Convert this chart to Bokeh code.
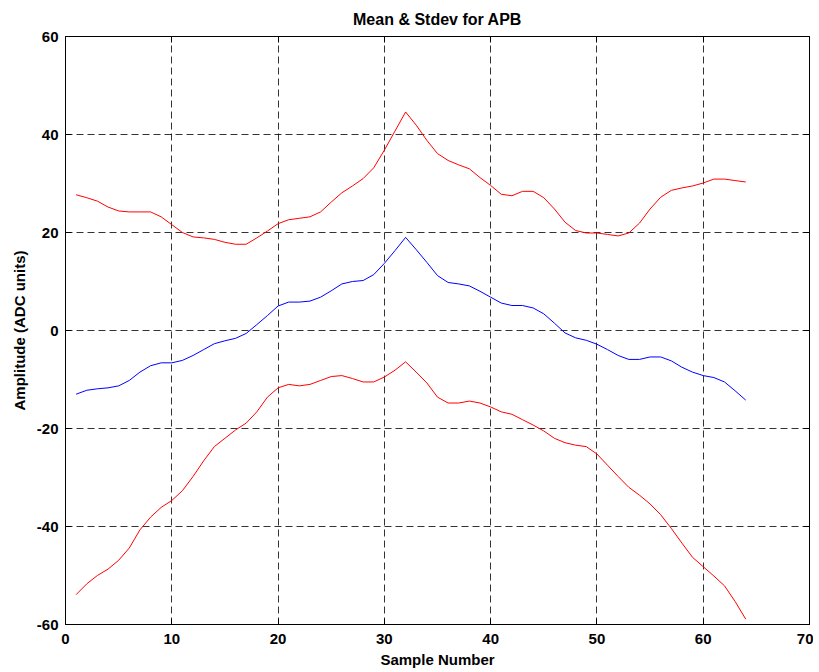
from bokeh.plotting import figure
from bokeh.models import LinearAxis, SingleIntervalTicker, CustomJSTickFormatter
from bokeh.embed import file_html
from bokeh.resources import INLINE

samples = list(range(1, 65))
upper = [27.7, 27.1, 26.4, 25.2, 24.4, 24.2, 24.2, 24.2, 23.2, 21.6,
         20.0, 19.1, 18.9, 18.6, 18.0, 17.6, 17.6, 18.9, 20.3, 21.8,
         22.6, 22.9, 23.2, 24.2, 26.2, 28.1, 29.5, 31.0, 33.2, 36.8,
         40.7, 44.6, 41.9, 38.8, 36.1, 34.7, 33.8, 33.0, 31.2, 29.6,
         27.8, 27.5, 28.4, 28.4, 27.1, 24.8, 22.1, 20.4, 19.9, 19.9,
         19.6, 19.3, 19.9, 21.9, 24.8, 27.2, 28.6, 29.1, 29.5, 30.1,
         30.9, 30.9, 30.6, 30.3]
mean = [-13.0, -12.2, -11.9, -11.7, -11.3, -10.2, -8.5, -7.2, -6.6, -6.6,
        -6.1, -5.1, -3.9, -2.7, -2.1, -1.6, -0.6, 1.2, 3.05, 5.0,
        5.8, 5.8, 6.0, 6.8, 8.1, 9.5, 10.0, 10.2, 11.4, 13.7,
        16.3, 19.0, 16.5, 13.9, 11.2, 9.8, 9.5, 9.1, 8.0, 6.8,
        5.6, 5.1, 5.1, 4.6, 3.4, 1.5, -0.5, -1.5, -2.0, -2.8,
        -3.9, -5.1, -5.9, -5.9, -5.4, -5.4, -6.2, -7.5, -8.5, -9.2,
        -9.6, -10.5, -12.3, -14.2]
lower = [-53.9, -51.7, -50.0, -48.7, -46.9, -44.4, -40.7, -38.1, -36.1, -34.7,
         -32.7, -29.8, -26.6, -23.7, -22.0, -20.3, -18.9, -16.6, -13.6, -11.7,
         -11.0, -11.3, -11.0, -10.2, -9.4, -9.2, -9.8, -10.5, -10.5, -9.5,
         -8.1, -6.4, -8.5, -10.7, -13.6, -14.8, -14.8, -14.4, -14.8, -15.6,
         -16.6, -17.1, -18.2, -19.3, -20.5, -22.0, -22.9, -23.4, -23.7, -25.2,
         -27.5, -29.8, -32.0, -33.6, -35.4, -37.6, -40.4, -43.4, -46.3, -48.2,
         -50.1, -52.1, -55.3, -58.9]

FONT = "Liberation Sans"

p = figure(frame_width=744, frame_height=588, x_range=(0, 70), y_range=(-60, 60),
           output_backend="svg", toolbar_location=None,
           min_border_left=65, min_border_right=2, min_border_top=36, min_border_bottom=40,
           title="Mean & Stdev for APB", x_axis_label="Sample Number",
           y_axis_label="Amplitude (ADC units)")
p.background_fill_color = "white"
p.border_fill_color = "white"
p.outline_line_color = "black"
p.outline_line_width = 1

p.title.align = "center"
p.title.text_font = FONT
p.title.text_font_style = "bold"
p.title.text_font_size = "16px"
p.title.text_color = "black"

plain = CustomJSTickFormatter(code="return tick.toString()")
for ax in (p.xaxis[0], p.yaxis[0]):
    ax.formatter = plain
    ax.major_tick_in = 6
    ax.major_tick_out = 0
    ax.minor_tick_line_color = None
    ax.axis_line_color = "black"
    ax.major_tick_line_color = "black"
    ax.major_label_text_font = FONT
    ax.major_label_text_font_style = "bold"
    ax.major_label_text_font_size = "15px"
    ax.major_label_text_color = "black"
    ax.axis_label_text_font = FONT
    ax.axis_label_text_font_style = "bold"
    ax.axis_label_text_font_size = "15px"
    ax.axis_label_text_color = "black"

p.xaxis[0].major_label_standoff = 5
p.xaxis[0].axis_label_standoff = 4
p.yaxis[0].major_label_standoff = 3
p.yaxis[0].axis_label_standoff = 6

p.xaxis[0].ticker = SingleIntervalTicker(interval=10)
p.yaxis[0].ticker = SingleIntervalTicker(interval=20)

for loc, interval in (("above", 10), ("right", 20)):
    ax = LinearAxis(ticker=SingleIntervalTicker(interval=interval),
                    formatter=CustomJSTickFormatter(code="return ''"),
                    major_tick_in=6, major_tick_out=0,
                    minor_tick_line_color=None, axis_line_color="black",
                    major_tick_line_color="black", major_label_standoff=0,
                    major_label_text_font_size="1px")
    p.add_layout(ax, loc)

p.xgrid.ticker = SingleIntervalTicker(interval=10)
p.ygrid.ticker = SingleIntervalTicker(interval=20)
for g in (p.xgrid[0], p.ygrid[0]):
    g.grid_line_color = "black"
    g.grid_line_dash = "7 4"
    g.grid_line_alpha = 0.8
    g.grid_line_width = 1

p.line(samples, upper, line_color="#ff0000", line_width=1)
p.line(samples, mean, line_color="#0000ff", line_width=1)
p.line(samples, lower, line_color="#ff0000", line_width=1)

open("out.html", "w").write(file_html(p, INLINE))
